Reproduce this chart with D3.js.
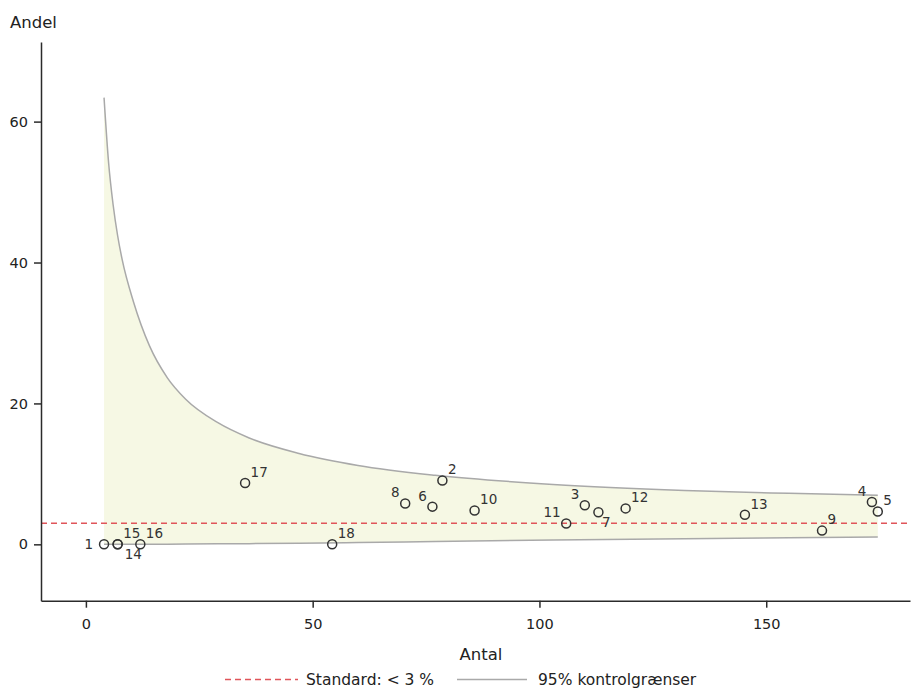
<!DOCTYPE html>
<html>
<head>
<meta charset="utf-8">
<script src="https://cdn.jsdelivr.net/npm/d3@7"></script>
<style>
  html, body { margin: 0; padding: 0; background: #ffffff; }
  svg { display: block; font-family: "DejaVu Sans", sans-serif; }
</style>
</head>
<body>
<svg id="chart" width="911" height="689"></svg>
<script>
// ---- Data ----
const unitIds   = [1, 2, 3, 4, 5, 6, 7, 8, 9, 10, 11, 12, 13, 14, 15, 16, 17, 18];
const antal     = [4, 78.6, 110, 173.3, 174.6, 76.4, 113, 70.4, 162.3, 85.7, 105.9, 119, 145.3, 7, 7, 12, 35.1, 54.3];
const andel     = [0, 9.05, 5.55, 6.0, 4.65, 5.35, 4.55, 5.8, 1.95, 4.8, 2.95, 5.1, 4.2, 0, 0, 0, 8.7, 0];
// clock position of each point label (Stata style mlabvposition)
const labelClock = [9, 1, 11, 11, 1, 11, 4, 11, 1, 1, 11, 1, 1, 5, 1, 1, 1, 1];

// 95% control limits
const limitN     = [4, 5, 6, 7, 8, 10.5, 14, 18, 22, 29, 36, 47, 60, 77, 103, 132, 155, 174.6];
const upperLimit = [63.4, 54.2, 48.2, 43.8, 40.4, 34.4, 28.2, 23.6, 20.6, 17.3, 15.1, 12.9, 11.2, 9.8, 8.5, 7.65, 7.24, 6.95];
const lowerLimit = [0, 0, 0, 0, 0, 0.01, 0.02, 0.03, 0.05, 0.08, 0.1, 0.15, 0.25, 0.4, 0.62, 0.81, 0.93, 1.03];

const standardValue = 3;
const xTicks = [0, 50, 100, 150];
const yTicks = [0, 20, 40, 60];
const xTitle = "Antal";
const yTitle = "Andel";
const legendLabels = ["Standard: < 3 %", "95% kontrolgrænser"];

// ---- Layout ----
const svg = d3.select("#chart");
const x = d3.scaleLinear().domain([-9.9, 181.7]).range([41, 910]);
const y = d3.scaleLinear().domain([-8, 71.3]).range([600.7, 42]);

const axisColor = "#2b2b2b";
const textColor = "#222222";
const limitColor = "#a9a9a9";
const fillColor = "#f6f8e4";
const redColor = "#e0555a";

const limits = limitN.map((n, i) => ({ n, up: upperLimit[i], lo: lowerLimit[i] }));
const curve = d3.curveMonotoneX;

// band fill
svg.append("path")
  .datum(limits)
  .attr("fill", fillColor)
  .attr("d", d3.area()
    .x(d => x(d.n))
    .y0(d => y(d.lo))
    .y1(d => y(d.up))
    .curve(curve));

// limit lines
["up", "lo"].forEach(k => {
  svg.append("path")
    .datum(limits)
    .attr("fill", "none")
    .attr("stroke", limitColor)
    .attr("stroke-width", 1.5)
    .attr("d", d3.line()
      .x(d => x(d.n))
      .y(d => y(d[k]))
      .curve(curve));
});

// standard line
svg.append("line")
  .attr("x1", x.range()[0]).attr("x2", x.range()[1])
  .attr("y1", y(standardValue)).attr("y2", y(standardValue))
  .attr("stroke", redColor)
  .attr("stroke-width", 1.6)
  .attr("stroke-dasharray", "6,4");

// axes
const xAxis = svg.append("g")
  .attr("transform", `translate(0,${y.range()[0]})`)
  .call(d3.axisBottom(x).tickValues(xTicks).tickSize(7).tickSizeOuter(0).tickPadding(11));
const yAxis = svg.append("g")
  .attr("transform", `translate(${x.range()[0]},0)`)
  .call(d3.axisLeft(y).tickValues(yTicks).tickSize(7).tickSizeOuter(0).tickPadding(6));
[xAxis, yAxis].forEach(g => {
  g.select(".domain").attr("stroke", axisColor).attr("stroke-width", 1.5);
  g.selectAll(".tick line").attr("stroke", axisColor).attr("stroke-width", 1.5);
  g.selectAll(".tick text").attr("fill", textColor)
    .style("font-size", "14.5px").style("font-family", "DejaVu Sans");
});

// axis titles
svg.append("text")
  .attr("x", 481).attr("y", 660)
  .attr("text-anchor", "middle")
  .attr("fill", textColor)
  .style("font-size", "16.5px")
  .text(xTitle);
svg.append("text")
  .attr("x", 10).attr("y", 28)
  .attr("fill", textColor)
  .style("font-size", "16.5px")
  .text(yTitle);

// points
const pts = unitIds.map((id, i) => ({ id, n: antal[i], v: andel[i], clock: labelClock[i] }));
svg.append("g").selectAll("circle")
  .data(pts).join("circle")
  .attr("cx", d => x(d.n))
  .attr("cy", d => y(d.v))
  .attr("r", 4.5)
  .attr("fill", "none")
  .attr("stroke", "#333333")
  .attr("stroke-width", 1.5);

// point labels by clock position
function labelOffset(c) {
  switch (c) {
    case 1:  return { dx: 5.5, dy: -11, anchor: "start" };
    case 11: return { dx: -5.5, dy: -11, anchor: "end" };
    case 9:  return { dx: -11, dy: 0, anchor: "end" };
    case 4:  return { dx: 3.5, dy: 10, anchor: "start" };
    case 5:  return { dx: 7, dy: 10, anchor: "start" };
    case 7:  return { dx: -3, dy: 10, anchor: "end" };
    default: return { dx: 7, dy: 0, anchor: "start" };
  }
}
svg.append("g").selectAll("text")
  .data(pts).join("text")
  .each(function(d) {
    const o = labelOffset(d.clock);
    d3.select(this)
      .attr("x", x(d.n) + o.dx)
      .attr("y", y(d.v) + o.dy)
      .attr("dy", "0.36em")
      .attr("text-anchor", o.anchor);
  })
  .attr("fill", "#333333")
  .style("font-size", "13.5px")
  .text(d => d.id);

// legend
const legY = 679.5;
const legend = svg.append("g");
legend.append("line")
  .attr("x1", 225).attr("x2", 298).attr("y1", legY).attr("y2", legY)
  .attr("stroke", redColor).attr("stroke-width", 1.6).attr("stroke-dasharray", "6,4");
legend.append("text")
  .attr("x", 306).attr("y", legY).attr("dy", "0.36em")
  .attr("fill", textColor).style("font-size", "15.5px")
  .text(legendLabels[0]);
legend.append("line")
  .attr("x1", 457).attr("x2", 527).attr("y1", legY).attr("y2", legY)
  .attr("stroke", limitColor).attr("stroke-width", 1.5);
legend.append("text")
  .attr("x", 538).attr("y", legY).attr("dy", "0.36em")
  .attr("fill", textColor).style("font-size", "15.5px")
  .text(legendLabels[1]);
</script>
</body>
</html>
